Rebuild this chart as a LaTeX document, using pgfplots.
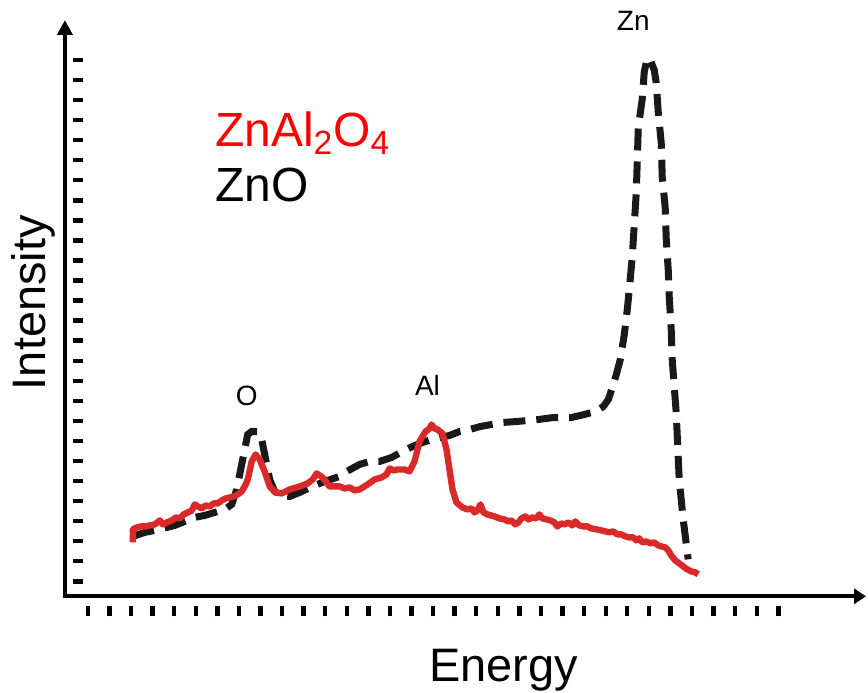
\documentclass[border=0pt]{standalone}
\usepackage{fontspec}
\setmainfont{Liberation Sans}
\usepackage{pgfplots}
\pgfplotsset{compat=1.18}
\usetikzlibrary{arrows.meta}
\definecolor{spinelred}{RGB}{218,41,41}
\definecolor{oxideblack}{RGB}{25,25,25}
\definecolor{labelred}{RGB}{255,0,0}

% EDS-like spectra: ZnAl2O4 (solid) and ZnO (dashed)
\pgfplotstableread{
x y
133 54
133 67
137 69
141 70
146 70
150 71
155 72
160 76
163 72
167 74
172 76
176 79
180 78
184 82
188 84
192 86
195 92
198 90
202 88
206 91
210 90
214 93
218 93
222 96
226 98
230 99
234 100
238 102
242 105
246 112
248 117
252 135
256 142
260 137
265 125
270 110
276 104
282 103
290 107
300 110
308 113
313 117
317 123
323 119
330 110
340 110
345 108
350 109
355 106
360 107
368 112
375 117
382 119
387 122
390 128
394 126
398 127
405 127
410 125
415 135
420 155
426 165
430 168
432 172
435 168
438 167
443 163
447 147
450 127
453 107
457 94
463 89
468 87
472 88
475 84
478 86
481 92
484 84
488 82
495 80
500 78
505 77
509 75
512 76
516 72
519 74
522 78
526 80
529 77
533 79
537 78
540 82
543 78
547 77
551 76
555 74
558 70
562 73
565 72
569 74
573 71
576 75
580 71
584 70
588 70
592 68
597 67
602 66
606 65
610 64
614 65
618 62
622 62
626 60
630 59
634 59
637 56
640 58
643 54
647 55
651 53
655 54
659 51
662 50
666 49
669 46
672 41
676 36
680 33
684 30
688 27
692 25
696 24
699 22
}\spinel

\pgfplotstableread{
x y
133 60
145 64
160 67
175 71
185 75
195 79
205 81
215 84
225 87
232 92
237 107
241 127
245 147
248 162
252 165
258 165
262 157
265 142
270 117
275 105
282 101
290 100
300 104
313 110
325 115
340 120
347 125
360 132
370 135
380 135
392 139
403 145
413 150
423 154
432 157
440 159
450 161
460 165
470 167
481 170
492 172
503 174
517 175
528 176
539 177
554 179
572 179
585 182
596 185
604 190
609 197
613 209
617 222
621 237
625 262
628 287
630 307
633 340
635 372
637 404
638 435
639 469
643 498
645 525
648 539
651 537
655 527
657 514
659 485
662 454
663 420
666 389
667 358
669 327
670 300
672 267
673 237
675 210
677 184
680 117
684 77
689 37
}\oxide

\begin{document}
\begin{tikzpicture}
\begin{axis}[
  x=0.5pt, y=0.5pt,
  xmin=65, xmax=867, ymin=0, ymax=577,
  axis lines=left,
  axis line style={line width=2pt, line cap=rect},
  x axis line style={-{Triangle[length=6pt,width=7.5pt]}},
  y axis line style={-{Triangle[length=7.5pt,width=7.5pt]}},
  xtick={88,109.6,...,780},
  ytick={15,35.077,...,538},
  xticklabels={}, yticklabels={},
  tick align=center,
  major tick length=5pt,
  tick style={black, line width=2.2pt, line cap=butt},
  xtick style={yshift=-7.5pt},
  ytick style={xshift=6.5pt},
  clip=false,
]
\addplot[oxideblack, line width=3.5pt, dash pattern=on 11pt off 5.5pt] table[x=x, y=y] {\oxide};
\addplot[spinelred, line width=3.2pt, line join=round] table[x=x, y=y] {\spinel};

\node[font=\fontsize{14}{16}\selectfont, inner sep=0pt] at (axis cs:247,201) {O};
\node[font=\fontsize{14}{16}\selectfont, inner sep=0pt] at (axis cs:428,211) {Al};
\node[font=\fontsize{14}{16}\selectfont, inner sep=0pt] at (axis cs:634,576) {Zn};

\node[font=\fontsize{24}{28}\selectfont, text=labelred, anchor=base west, inner sep=0pt]
  at (axis cs:215,450) {ZnAl\textsubscript{2}O\textsubscript{4}};
\node[font=\fontsize{24}{28}\selectfont, anchor=base west, inner sep=0pt]
  at (axis cs:215,395) {ZnO};

\node[font=\fontsize{23.5}{28}\selectfont, anchor=base, inner sep=0pt] at (axis cs:504,-85) {Energy};
\node[font=\fontsize{23.5}{28}\selectfont, rotate=90, anchor=base, inner sep=0pt] at (axis cs:46,294) {Intensity};

\path (axis cs:0,-96) rectangle (axis cs:868,597);
\end{axis}
\end{tikzpicture}
\end{document}
